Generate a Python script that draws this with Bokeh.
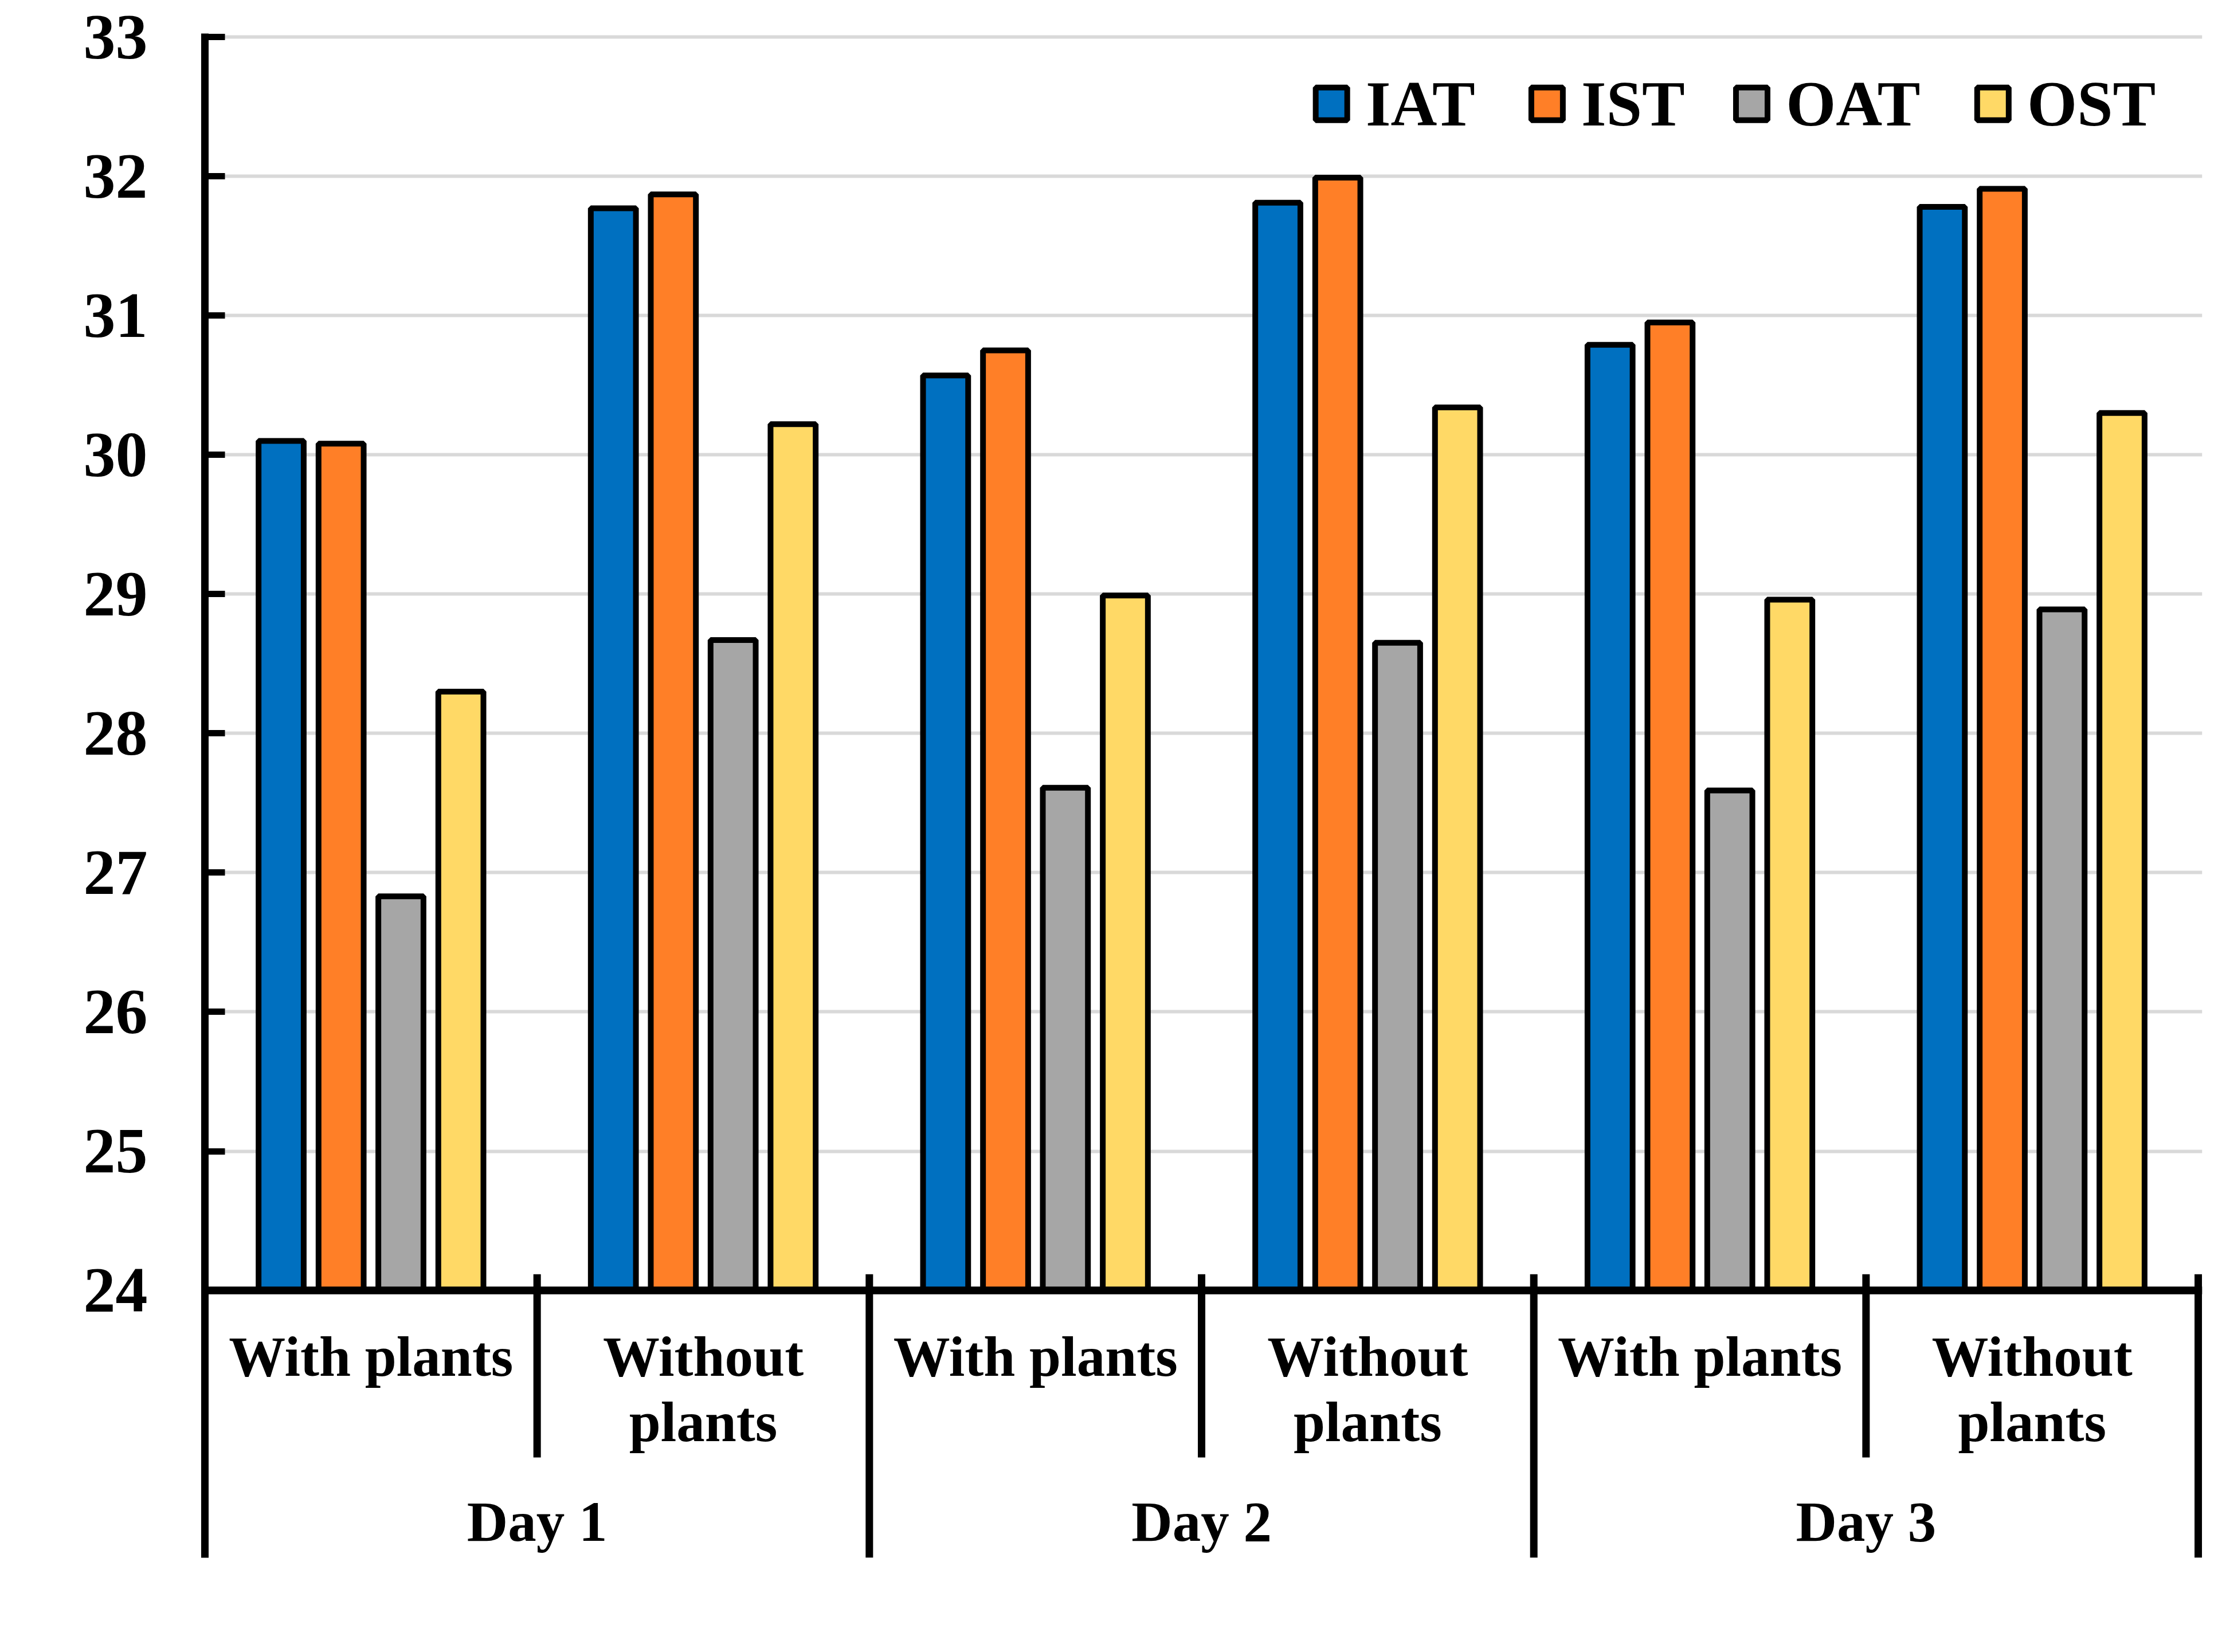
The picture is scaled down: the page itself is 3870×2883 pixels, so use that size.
import math
from bokeh.plotting import figure
from bokeh.models import Range1d, FixedTicker, Span, Label, ColumnDataSource
from bokeh.embed import file_html
from bokeh.resources import INLINE

# ---------------- data ----------------
days = ["Day 1", "Day 2", "Day 3"]
conditions = ["With plants", "Without\nplants"]
series = ["IAT", "IST", "OAT", "OST"]
colors = ["#0070C0", "#FF7F27", "#A6A6A6", "#FFD966"]

IAT = [30.10, 31.77, 30.57, 31.81, 30.79, 31.78]
IST = [30.08, 31.87, 30.75, 31.99, 30.95, 31.91]
OAT = [26.83, 28.67, 27.61, 28.65, 27.59, 28.89]
OST = [28.30, 30.22, 28.99, 30.34, 28.96, 30.30]
values = [IAT, IST, OAT, OST]

y_ticks = [24, 25, 26, 27, 28, 29, 30, 31, 32, 33]
y_title = "Temperature (°C)"
x_title = "Test days"

# ---------------- layout constants ----------------
FONT = "Liberation Serif"
CAT_SIZE = "99px"     # (sizes like 100px/200px break the SVG font parser)
TITLE_SIZE = "112px"
n_groups = len(days) * len(conditions)
offsets = [-0.2705, -0.090, 0.090, 0.2705]
bar_w = 0.1358
base = 24
leg_box_x = [3.391, 4.040, 4.656, 5.382]
leg_text_dx = 0.103
leg_y = 32.52
row1_y, row2_y, day_y = 23.525, 23.055, 22.339

p = figure(width=3854, height=2867, output_backend="svg", toolbar_location=None,
           x_range=Range1d(0, n_groups + 0.012), y_range=Range1d(22.081, 33.025),
           x_axis_location=None,
           min_border_left=357, min_border_right=12, min_border_top=58, min_border_bottom=149,
           outline_line_color=None, background_fill_color="white", border_fill_color="white")

p.xgrid.visible = False
ax = p.yaxis[0]
ax.ticker = FixedTicker(ticks=y_ticks)
ax.axis_line_width = 13
ax.axis_line_color = "black"
ax.major_tick_in = 35
ax.major_tick_out = 0
ax.major_tick_line_width = 11
ax.major_tick_line_color = "black"
ax.minor_tick_line_color = None
ax.major_label_standoff = 100
ax.major_label_text_font = FONT
ax.major_label_text_font_style = "bold"
ax.major_label_text_font_size = TITLE_SIZE
ax.major_label_text_color = "black"
p.ygrid.grid_line_color = "#D9D9D9"
p.ygrid.grid_line_width = 6

# bars
for s, name in enumerate(series):
    xs = [g + 0.5 + offsets[s] for g in range(n_groups)]
    src = ColumnDataSource(dict(x=xs, top=values[s]))
    p.vbar(x="x", top="top", bottom=base, width=bar_w, source=src,
           fill_color=colors[s], line_color="black", line_width=10)

# separators (category boundaries)
bounds = list(range(1, n_groups + 1))
sy0 = [24.117] * len(bounds)
sy1 = [22.081 if b % 2 == 0 else 22.801 for b in bounds]
p.segment(x0=bounds, y0=sy0, x1=bounds, y1=sy1, line_color="black", line_width=13)

# legend key boxes
p.rect(x=leg_box_x, y=[leg_y] * 4, width=55, height=57, width_units="screen", height_units="screen",
       fill_color=colors, line_color="black", line_width=10)

# baseline
p.add_layout(Span(location=base, dimension="width", line_color="black", line_width=13.5))


def add_text(x, y, text, size, align="center", angle=0.0):
    p.add_layout(Label(x=x, y=y, text=text, angle=angle, text_align=align,
                       text_baseline="middle", text_font=FONT, text_font_style="bold",
                       text_font_size=size, text_color="black"))


# legend labels
for s, name in enumerate(series):
    add_text(leg_box_x[s] + leg_text_dx, leg_y, name, TITLE_SIZE, align="left")

# axis titles
add_text(-0.526, 28.5, y_title, TITLE_SIZE, angle=math.pi / 2)
add_text(2.859, 21.741, x_title, TITLE_SIZE)

# condition labels
for g in range(n_groups):
    c = g + 0.5
    lines = conditions[g % 2].split("\n")
    add_text(c, row1_y, lines[0], CAT_SIZE)
    if len(lines) > 1:
        add_text(c, row2_y, lines[1], CAT_SIZE)

# day labels
for d, day in enumerate(days):
    add_text(2 * d + 1, day_y, day, CAT_SIZE)

open("out.html", "w").write(file_html(p, INLINE))
